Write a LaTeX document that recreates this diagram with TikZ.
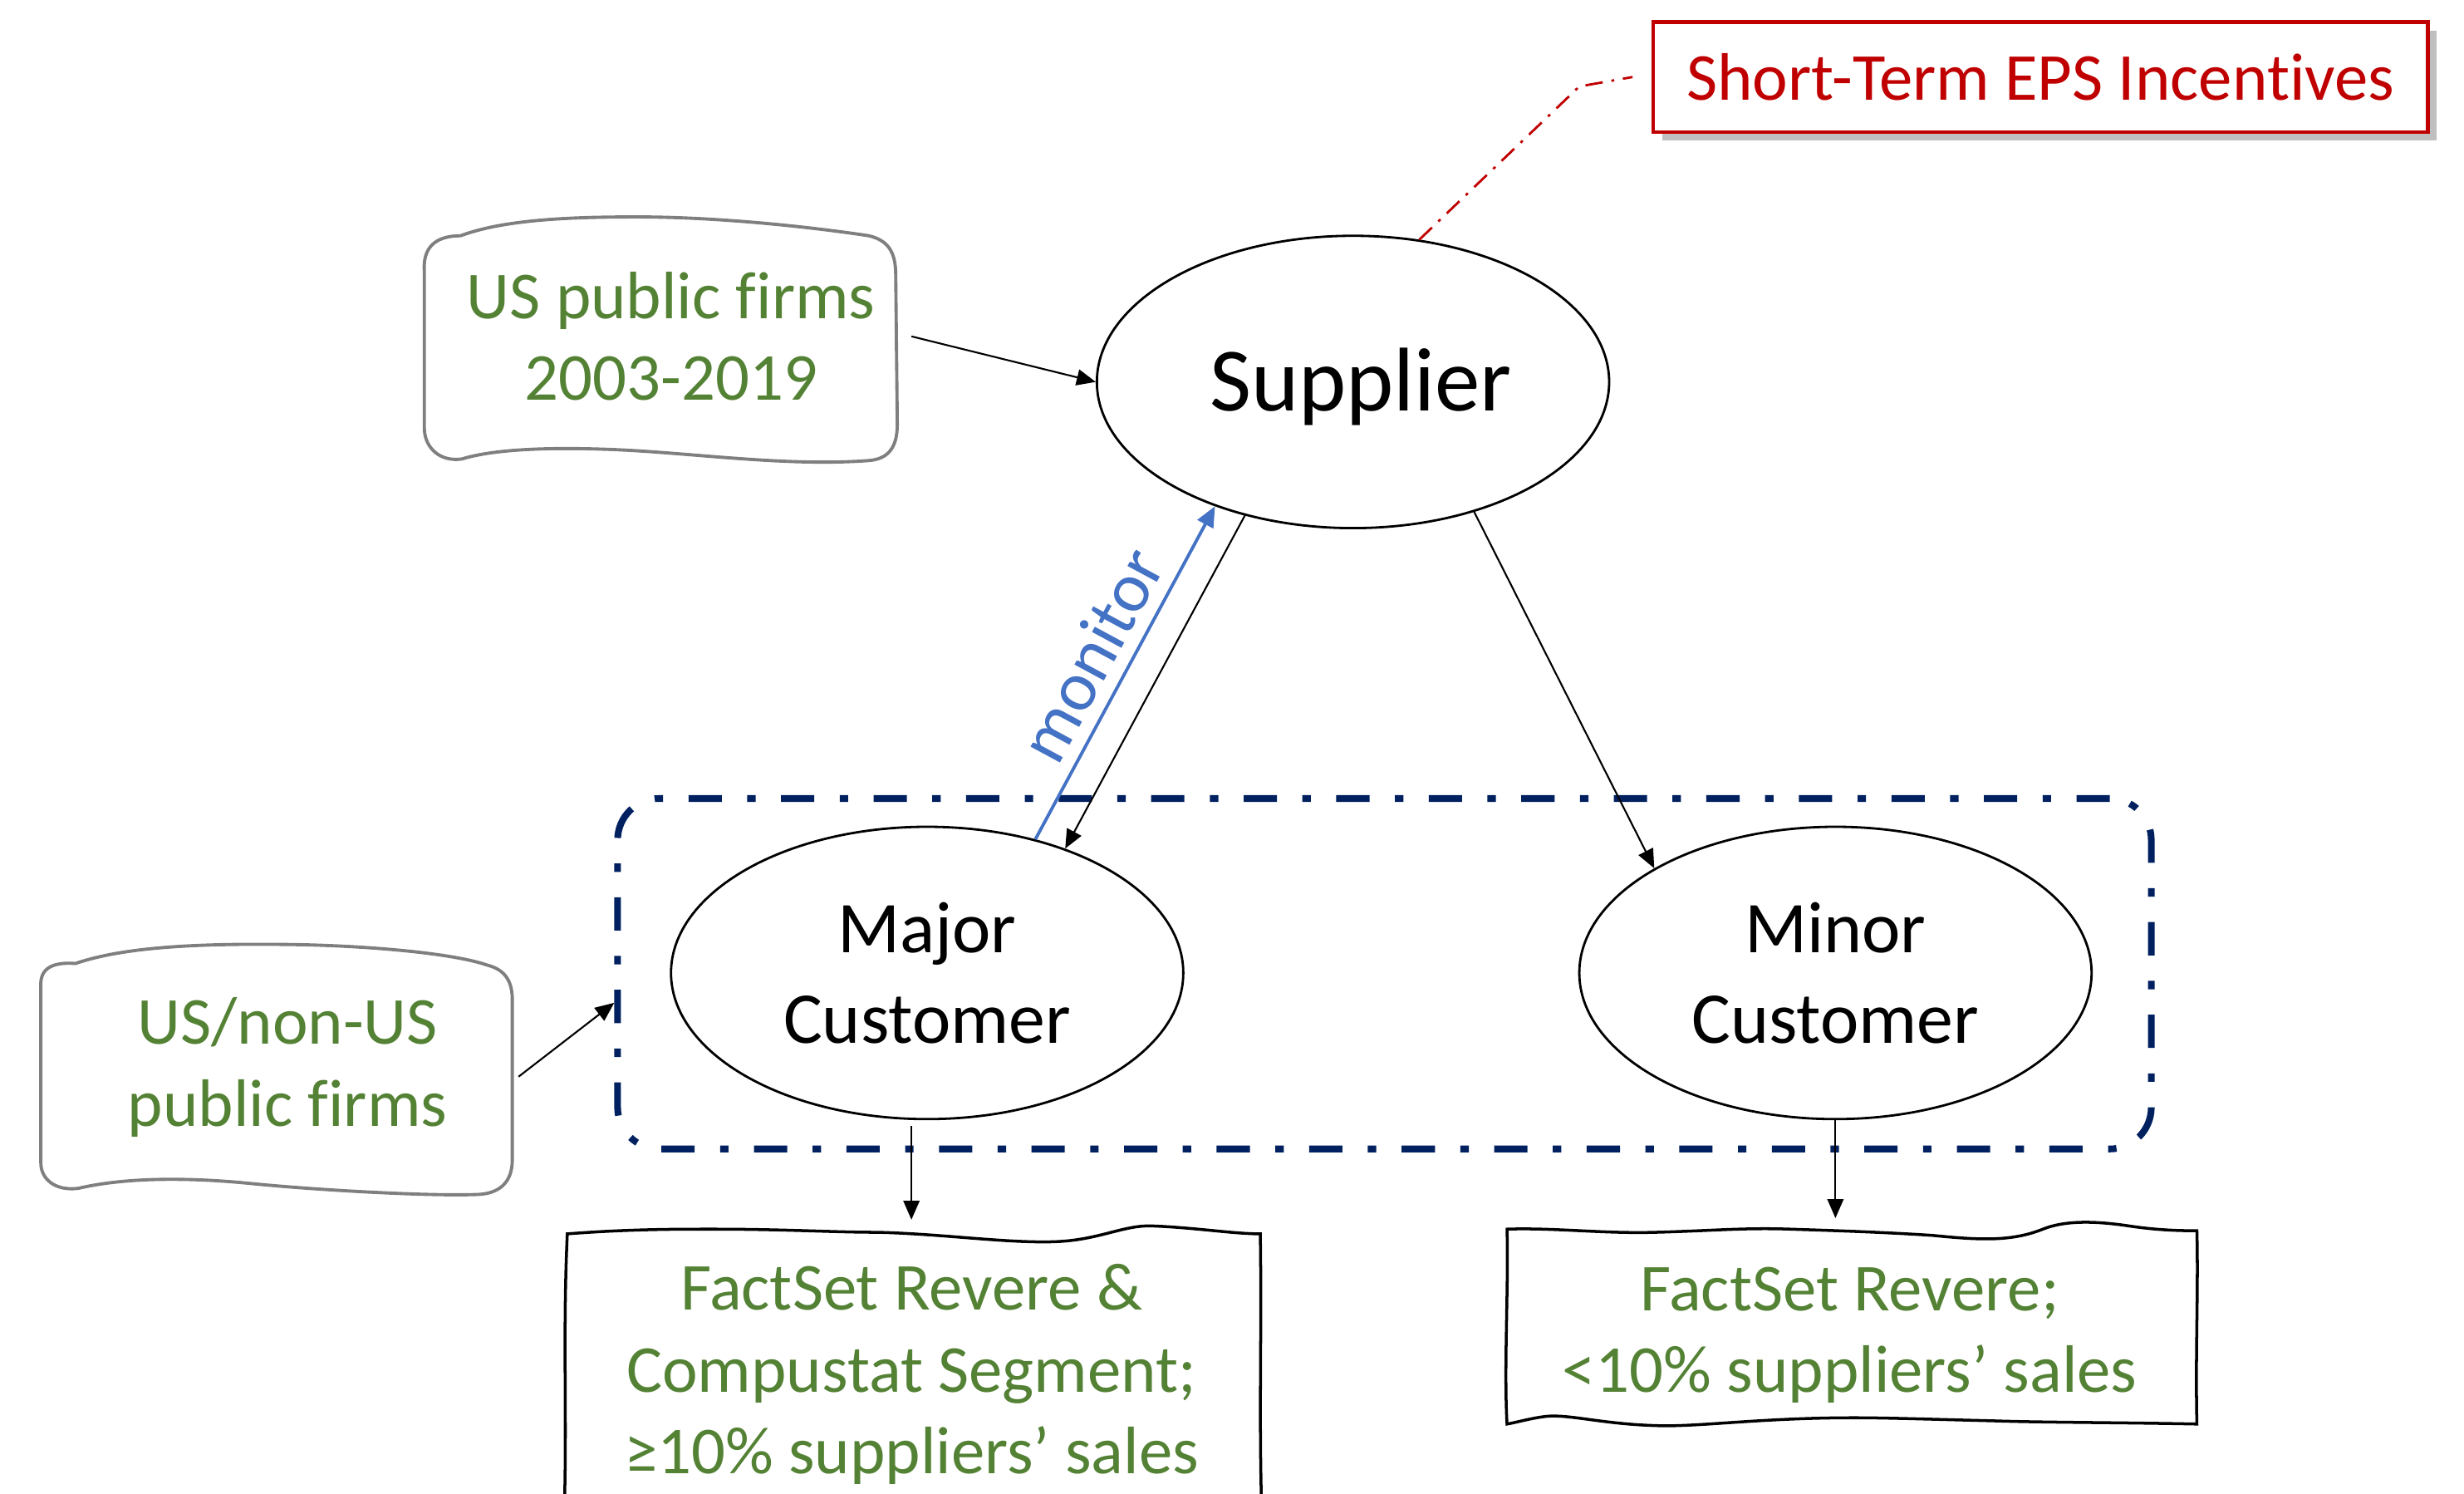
\documentclass[tikz,border=0pt]{standalone}
\usepackage{fontspec}
\setmainfont{Carlito}[Ligatures=NoCommon]
\usetikzlibrary{shapes.geometric,arrows.meta,shadows}
\definecolor{grn}{HTML}{548235}
\definecolor{rd}{HTML}{C00000}
\definecolor{bl}{HTML}{4472C4}
\definecolor{nv}{HTML}{002060}
\definecolor{gry}{HTML}{7F7F7F}
\tikzset{
  ell/.style={ellipse, draw, line width=0.8pt, minimum width=6.168cm, minimum height=3.519cm, inner sep=0pt, align=center},
  arr/.style={-{Triangle[width=5.5pt,length=6.5pt]}, line width=0.6pt},
  gtxt/.style={text=grn, font=\fontsize{23}{28}\selectfont, align=center, inner sep=0pt},
  sketch/.style={draw=gry, line width=1.1pt},
  wbox/.style={draw=black, line width=1pt},
  grpbox/.style={draw=nv, line width=2.3pt, rounded corners=0.5cm, dash pattern=on 11.4pt off 8.7pt on 2.9pt off 8.7pt, minimum width=18.466cm, minimum height=4.219cm},
  callout/.style={draw=rd, line width=0.8pt, dash pattern=on 6pt off 3pt on 1pt off 3pt}
}
\begin{document}
\begin{tikzpicture}[x=0.01892cm,y=-0.01892cm]
\useasboundingbox (0,0) rectangle (1568,950);
\clip (0,0) rectangle (1568,950);

% group box
\node[grpbox] (grp) at (881,619.5) {};

% ellipses
\node[ell] (sup) at (861,243) {};
\node[font=\fontsize{31}{37}\selectfont, inner sep=0pt] (suptxt) at (866,246) {Supplier};
\node[ell, font=\fontsize{25}{31}\selectfont] (maj) at (590,619) {Major\\Customer};
\node[ell, font=\fontsize{25}{31}\selectfont] (mnr) at (1168,619) {Minor\\Customer};

% red box
\node[draw=rd, line width=1.2pt, fill=white, text=rd, font=\fontsize{23}{28}\selectfont,
      minimum width=9.328cm, minimum height=1.324cm,
      drop shadow={shadow xshift=3pt, shadow yshift=-3pt, fill=black, opacity=0.25}] (eps) at (1298.5,49) {Short-Term EPS Incentives};

% sketch frames (grey)
\draw[sketch] (270,172) .. controls (269,155) and (280,150) .. (293,150)
  .. controls (320,140) and (360,138) .. (405,138)
  .. controls (460,138) and (520,145) .. (553,150)
  .. controls (565,153) and (570,160) .. (570,175) -- (571,270)
  .. controls (571,285) and (565,292) .. (553,293)
  .. controls (500,297) and (440,288) .. (390,286)
  .. controls (340,284) and (310,287) .. (294,292)
  .. controls (280,294) and (270,285) .. (270,272) -- cycle;
\draw[sketch] (26,628) .. controls (25,615) and (35,612) .. (48,613)
  .. controls (80,602) and (130,600) .. (190,601)
  .. controls (240,602) and (290,607) .. (310,614)
  .. controls (322,617) and (326,625) .. (326,636) -- (326,738)
  .. controls (326,752) and (318,760) .. (302,760)
  .. controls (270,761) and (200,757) .. (160,753)
  .. controls (120,749) and (80,749) .. (50,756)
  .. controls (35,758) and (26,750) .. (26,740) -- cycle;

% wavy bottom boxes
\draw[wbox] (361,785) .. controls (400,782) and (430,782) .. (453,782)
  .. controls (500,782) and (530,784) .. (558,784)
  .. controls (600,785) and (640,791) .. (671,790)
  .. controls (700,789) and (715,779) .. (734,780)
  .. controls (760,781) and (785,785) .. (802,785)
  .. controls (803,850) and (801,900) .. (803,965) -- (359,965)
  .. controls (361,900) and (358,850) .. (361,785) -- cycle;
\draw[wbox] (959,782) .. controls (990,781) and (1020,785) .. (1054,784)
  .. controls (1090,783) and (1110,781) .. (1139,782)
  .. controls (1170,783) and (1200,784) .. (1230,786)
  .. controls (1260,789) and (1280,790) .. (1300,782)
  .. controls (1315,776) and (1335,777) .. (1355,780)
  .. controls (1375,783) and (1390,783) .. (1398,783)
  .. controls (1399,820) and (1397,860) .. (1398,906)
  .. controls (1350,905) and (1300,905) .. (1270,904)
  .. controls (1230,903) and (1200,902) .. (1180,902)
  .. controls (1120,902) and (1080,908) .. (1054,907)
  .. controls (1020,906) and (1000,900) .. (985,901)
  .. controls (975,902) and (965,905) .. (959,906)
  .. controls (957,870) and (960,820) .. (959,782) -- cycle;

% green texts
\node[gtxt] (usp) at (427,214) {US public firms\\2003-2019};
\node[gtxt] (usn) at (183,679) {US/non-US\\public firms};
\node[gtxt, minimum width=8.363cm, minimum height=3.708cm, anchor=north] (b1) at (580,776)
  {FactSet Revere \&\\Compustat Segment;\\≥10\% suppliers’ sales};
\node[gtxt, minimum width=8.363cm, minimum height=2.800cm, anchor=north] (b2) at (1177,775)
  {FactSet Revere;\\<10\% suppliers’ sales};

% connectors
\coordinate (usout) at (580,214);
\coordinate (nout) at (330,685);
\coordinate (bend) at (1005,55);
\draw[arr] (usout) -- (sup.west);
\draw[arr] (sup.231) -- (maj.42);
\draw[line width=1.1pt, color=bl, -{Triangle[width=6pt,length=7pt]}] (maj.51) --
  node[midway, above=1pt, sloped, text=bl, font=\fontsize{24}{29}\selectfont] {monitor} (sup.222);
\draw[arr] (sup.313) -- (mnr.150);
\draw[arr] (nout) -- ([yshift=-0.35cm]grp.west);
\draw[arr, shorten <=2pt] (maj.south -| b1.north) -- (b1.north);
\draw[arr] (mnr.south) -- (mnr.south |- b2.north);
\draw[callout] (sup.65) -- (bend) -- ([xshift=-0.227cm]eps.west);
\end{tikzpicture}
\end{document}
